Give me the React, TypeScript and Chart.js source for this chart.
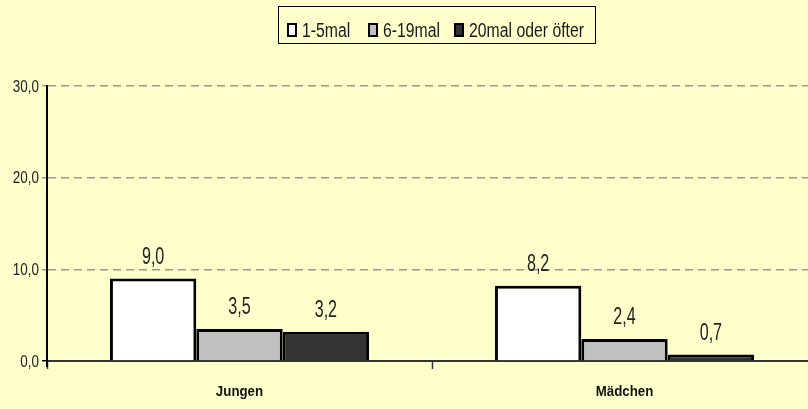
import React, { useEffect, useRef } from "react";
import { Chart, registerables } from "chart.js";

Chart.register(...registerables);

const categories = ["Jungen", "Mädchen"];
const seriesNames = ["1-5mal", "6-19mal", "20mal oder öfter"];
const series1 = [9.0, 8.2];
const series2 = [3.5, 2.4];
const series3 = [3.2, 0.7];
const yTicks = [0, 10, 20, 30];

const FONT = '"Liberation Sans", Arial, sans-serif';
const BG = "#FFFFCC";
const fills = ["#FFFFFF", "#C0C0C0", "#333333"];
const NARROW = 0.79;

const fmt = (v: number) => v.toFixed(1).replace(".", ",");

function narrowText(ctx: CanvasRenderingContext2D, text: string, x: number, y: number, align: CanvasTextAlign, sx: number) {
  ctx.save();
  ctx.translate(x, y);
  ctx.scale(sx, 1);
  ctx.textAlign = align;
  ctx.fillText(text, 0, 0);
  ctx.restore();
}

export default function App() {
  const ref = useRef<HTMLCanvasElement | null>(null);
  useEffect(() => {
    const canvas = ref.current!;
    const values = [series1, series2, series3];

    const textPlugin = {
      id: "customText",
      afterDraw(chart: any) {
        const ctx: CanvasRenderingContext2D = chart.ctx;
        ctx.save();
        // legend
        ctx.strokeStyle = "#000";
        ctx.lineWidth = 1;
        ctx.strokeRect(278.5, 6.5, 317, 37);
        ctx.font = `20px ${FONT}`;
        ctx.textBaseline = "middle";
        const markerX = [288, 369, 455];
        const ly = 30;
        seriesNames.forEach((name, i) => {
          const mx = markerX[i];
          ctx.fillStyle = fills[i];
          ctx.fillRect(mx, ly - 6, 8, 12);
          ctx.lineWidth = 2;
          ctx.strokeStyle = "#000";
          ctx.strokeRect(mx, ly - 6, 8, 12);
          ctx.fillStyle = "#1a1a1a";
          narrowText(ctx, name, mx + 14, ly + 1, "left", NARROW);
        });

        // y axis extension below zero
        const y = chart.scales.y;
        const area = chart.chartArea;
        ctx.strokeStyle = "#000";
        ctx.lineWidth = 2;
        ctx.beginPath();
        ctx.moveTo(area.left, area.bottom);
        ctx.lineTo(area.left, area.bottom + 6);
        ctx.stroke();

        // y tick labels
        ctx.font = `17px ${FONT}`;
        ctx.fillStyle = "#222";
        ctx.textBaseline = "middle";
        yTicks.forEach((v) => {
          narrowText(ctx, fmt(v), 39, y.getPixelForValue(v) + 1, "right", NARROW);
        });

        // category labels
        const x = chart.scales.x;
        ctx.font = `bold 14px ${FONT}`;
        ctx.fillStyle = "#111";
        categories.forEach((c, i) => {
          narrowText(ctx, c, x.getPixelForValue(i), 392, "center", 0.95);
        });
        ctx.restore();
      },
      afterDatasetsDraw(chart: any) {
        const ctx: CanvasRenderingContext2D = chart.ctx;
        ctx.save();
        ctx.font = `23px ${FONT}`;
        ctx.fillStyle = "#222";
        ctx.textBaseline = "middle";
        chart.data.datasets.forEach((ds: any, di: number) => {
          const meta = chart.getDatasetMeta(di);
          meta.data.forEach((bar: any, i: number) => {
            narrowText(ctx, fmt(ds.data[i]), bar.x, bar.y - 21, "center", 0.7);
          });
        });
        ctx.restore();
      },
    };

    const chart = new Chart(canvas, {
      type: "bar",
      data: {
        labels: categories,
        datasets: seriesNames.map((name, i) => ({
          label: name,
          data: values[i],
          backgroundColor: fills[i],
          borderColor: "#000",
          borderWidth: 3,
          borderSkipped: "start",
          categoryPercentage: 0.673,
          barPercentage: 1,
        })),
      },
      options: {
        responsive: false,
        animation: false,
        layout: { padding: { top: 86, right: 3, left: 0, bottom: 0 } },
        plugins: {
          legend: { display: false },
          tooltip: { enabled: false },
        },
        scales: {
          x: {
            afterFit: (s: any) => {
              s.height = 48;
            },
            grid: {
              offset: true,
              drawOnChartArea: false,
              drawTicks: true,
              tickLength: 8,
              tickColor: "#333",
              tickWidth: 1.5,
            },
            border: { display: true, color: "#333", width: 2 },
            ticks: { display: false },
          },
          y: {
            min: 0,
            max: 30,
            afterFit: (s: any) => {
              s.width = 47;
            },
            afterBuildTicks: (s: any) => {
              s.ticks = yTicks.map((v) => ({ value: v }));
            },
            grid: {
              color: (c: any) => (c.tick && c.tick.value === 0 ? "rgba(0,0,0,0)" : "#9A9A9A"),
              lineWidth: 1.5,
              tickColor: (c: any) => (c.tick && c.tick.value === 0 ? "#000" : "#9A9A9A"),
              tickLength: 5,
              tickWidth: 1.5,
              tickBorderDash: [],
            },
            border: { display: true, color: "#000", width: 2, dash: [8, 5] },
            ticks: { display: false },
          },
        },
      },
      plugins: [textPlugin],
    });
    return () => chart.destroy();
  }, []);

  return (
    <div
      style={{
        position: "fixed",
        top: 0,
        left: 0,
        width: 808,
        height: 409,
        overflow: "hidden",
        background: BG,
      }}
    >
      <canvas ref={ref} width={820} height={409} style={{ width: 820, height: 409, display: "block" }} />
    </div>
  );
}
